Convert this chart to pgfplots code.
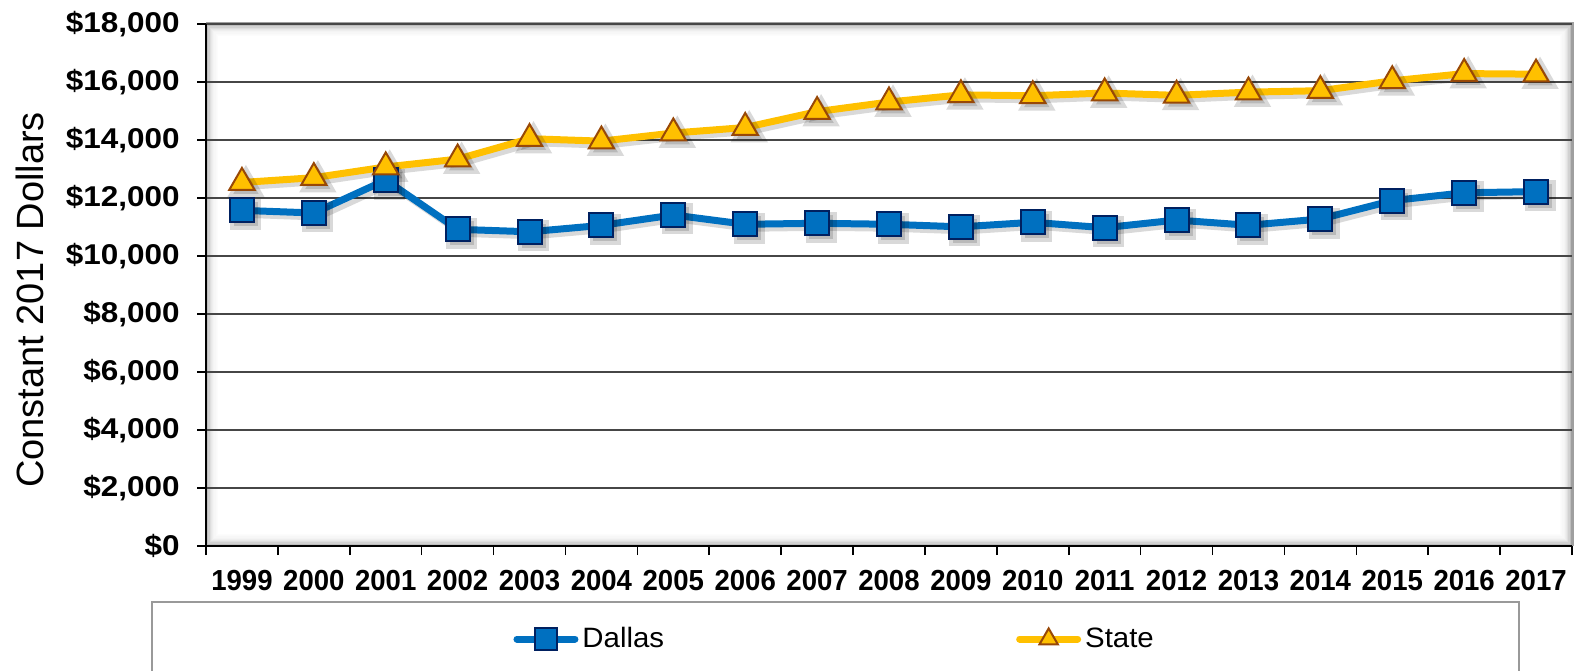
\documentclass[border=0pt]{standalone}
\usepackage{pgfplots}
\pgfplotsset{compat=1.18}
\usepackage{pgfplotstable}
\usepackage{fontspec}
\setmainfont{Liberation Sans}
\newfontfamily\xtfont[FakeStretch=0.95]{Liberation Sans}
\newfontfamily\ytfont[FakeStretch=1.1]{Liberation Sans}
\newfontfamily\legfont[FakeStretch=1.05]{Liberation Sans}
\definecolor{dblue}{HTML}{0070C0}
\definecolor{dnavy}{HTML}{002060}
\definecolor{syel}{HTML}{FFC000}
\definecolor{sbrown}{HTML}{984807}

\pgfplotstableread{
x dallas state
0  11574 12535
1  11483 12700
2  12620 13070
3  10920 13340
4  10835 14045
5  11056 13960
6  11415 14240
7  11094 14430
8  11128 14978
9  11094 15309
10 11005 15556
11 11162 15525
12 10975 15620
13 11240 15540
14 11060 15650
15 11275 15700
16 11910 16040
17 12180 16290
18 12220 16270
}\datatable

\begin{document}
\begin{tikzpicture}
\path[use as bounding box] (0,0) rectangle (787.5pt,335pt);
% inner shadow of the plot area
\foreach \i/\o in {0/0.38,1/0.26,2/0.18,3/0.13,4/0.09,5/0.065,6/0.045,7/0.03,8/0.018,9/0.01} {
  \draw[black, opacity=\o, line width=0.62pt]
    (103pt+0.6pt*\i+0.3pt, 62pt+0.6pt*\i+0.3pt) rectangle (786pt-0.6pt*\i-0.3pt, 323pt-0.6pt*\i-0.3pt);
}
\draw[gray!75, line width=1.5pt] (103pt,323pt) -- (786pt,323pt) -- (786pt,62pt);
% legend frame
\draw[gray!80, line width=0.8pt] (76pt,34pt) rectangle (759.5pt,-10pt);
\begin{axis}[
  at={(103pt,62pt)}, anchor=south west,
  width=683pt, height=261pt, scale only axis,
  xmin=-0.5, xmax=18.5, ymin=0, ymax=18000,
  scaled y ticks=false,
  axis x line*=bottom, axis y line*=left,
  axis line style={black, line width=0.8pt},
  tick align=outside, major tick length=4.5pt, minor tick length=4.5pt,
  xtick={0,...,18},
  xticklabels={1999,2000,2001,2002,2003,2004,2005,2006,2007,2008,2009,2010,2011,2012,2013,2014,2015,2016,2017},
  minor xtick={-0.5,0.5,...,18.5},
  major x tick style={draw=none},
  minor x tick style={black, line width=0.8pt},
  ytick={0,2000,...,18000},
  yticklabels={{\$0},{\$2,000},{\$4,000},{\$6,000},{\$8,000},{\$10,000},{\$12,000},{\$14,000},{\$16,000},{\$18,000}},
  major y tick style={black, line width=0.8pt},
  ymajorgrids, grid style={gray!55!black, line width=0.75pt},
  xticklabel style={font=\xtfont\bfseries\fontsize{14.5pt}{16pt}\selectfont, inner sep=0pt, anchor=north, yshift=-7.5pt},
  yticklabel style={font=\ytfont\bfseries\fontsize{14.3pt}{16pt}\selectfont, inner sep=0pt, anchor=east, xshift=-8.5pt},
  ylabel={Constant 2017 Dollars},
  ylabel style={at={(rel axis cs:-0.1288,0.4713)}, anchor=center, font=\fontsize{19pt}{22pt}\selectfont},
  legend style={at={(rel axis cs:0.2248,-0.1782)}, anchor=west, draw=none, fill=none,
    legend columns=2, font=\legfont\fontsize{14pt}{16pt}\selectfont, inner sep=0pt,
    nodes={inner sep=2pt},
    /tikz/every even column/.append style={column sep=174pt}},
  legend cell align=left,
  legend image code/.code={\draw[#1, line cap=round, mark repeat=2, mark phase=2, mark size=5.3pt] plot coordinates {(0pt,0pt) (14.5pt,0pt) (29pt,0pt)};},
  clip=false,
]
% shadows
\addplot[forget plot, black, opacity=0.15, line width=3.5pt, xshift=2pt, yshift=-2pt,
  mark=square*, mark size=6pt] table[x=x,y=dallas]{\datatable};
\addplot[forget plot, black, opacity=0.15, line width=3.5pt, xshift=2pt, yshift=-2pt,
  mark=triangle*, mark size=7.3pt] table[x=x,y=state]{\datatable};
% series
\addplot[color=dblue, line width=3.5pt, mark=square*, mark size=6pt,
  mark options={fill=dblue, draw=dnavy, line width=1pt}] table[x=x,y=dallas]{\datatable};
\addlegendentry{Dallas}
\addplot[color=syel, line width=3.5pt, mark=triangle*, mark size=7.3pt,
  mark options={fill=syel, draw=sbrown, line width=1pt}] table[x=x,y=state]{\datatable};
\addlegendentry{State}
\end{axis}
\end{tikzpicture}
\end{document}
